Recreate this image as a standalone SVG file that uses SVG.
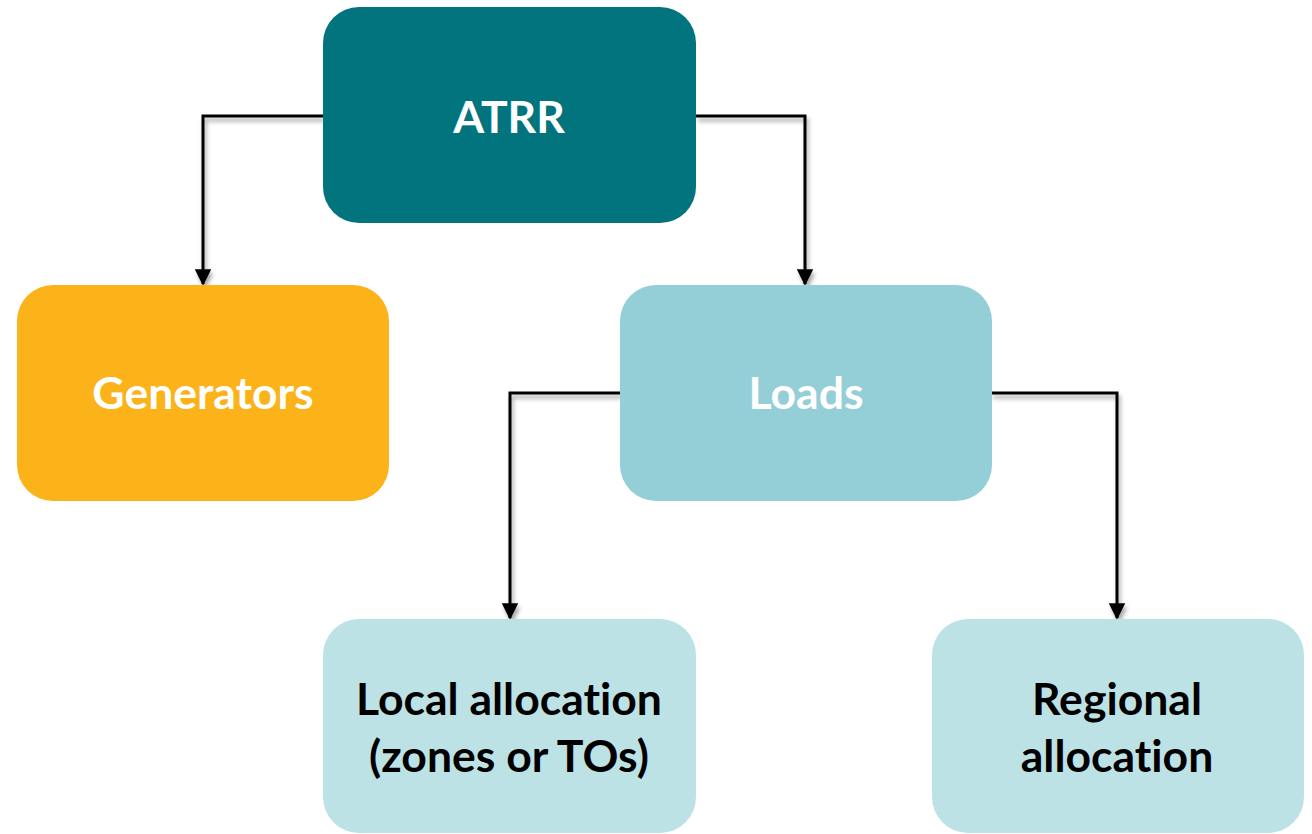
<svg xmlns="http://www.w3.org/2000/svg" width="1312" height="834" viewBox="0 0 1312 834">
  <style>
    .box { stroke: none; }
    .lbl { font-family: Lato, "Liberation Sans", sans-serif; font-weight: 700; font-size: 44.5px; text-anchor: middle; font-variant-ligatures: none; }
    .light { fill: #ffffff; }
    .dark { fill: #000000; }
    .wire { fill: none; stroke: #000000; stroke-width: 3; marker-end: url(#arrow); }
  </style>
  <defs>
    <marker id="arrow" viewBox="0 0 10 10" refX="9" refY="5" markerWidth="5.5" markerHeight="5.5" orient="auto" markerUnits="strokeWidth">
      <path d="M0,0 L10,5 L0,10 Z" fill="#000000"/>
    </marker>
    <filter id="shadow" x="-10%" y="-10%" width="130%" height="130%">
      <feDropShadow dx="2" dy="4" stdDeviation="2" flood-color="#000000" flood-opacity="0.35"/>
    </filter>
  </defs>

  <rect width="1312" height="834" fill="#ffffff"/>

  <!-- connectors -->
  <g id="connectors" filter="url(#shadow)">
    <path class="wire" d="M323,116 H203 V284"/>
    <path class="wire" d="M696,116 H805 V284"/>
    <path class="wire" d="M620,393 H510 V618"/>
    <path class="wire" d="M991,393 H1117 V618"/>
  </g>

  <g id="atrr">
    <rect class="box" x="323" y="7" width="373" height="216" rx="36" fill="#02747E"/>
    <text class="lbl light" x="509" y="133">ATRR</text>
  </g>

  <g id="generators">
    <rect class="box" x="17" y="285" width="372" height="216" rx="36" fill="#FBB319"/>
    <text class="lbl light" x="203" y="409">Generators</text>
  </g>

  <g id="loads">
    <rect class="box" x="620" y="285" width="372" height="216" rx="36" fill="#94CFD7"/>
    <text class="lbl light" x="806" y="409">Loads</text>
  </g>

  <g id="local-allocation">
    <rect class="box" x="323" y="619" width="373" height="214" rx="36" fill="#BDE2E5"/>
    <text class="lbl dark" x="509" y="715">Local allocation</text>
    <text class="lbl dark" x="509" y="772">(zones or TOs)</text>
  </g>

  <g id="regional-allocation">
    <rect class="box" x="932" y="619" width="372" height="214" rx="36" fill="#BDE2E5"/>
    <text class="lbl dark" x="1117" y="715">Regional</text>
    <text class="lbl dark" x="1117" y="772">allocation</text>
  </g>
</svg>
